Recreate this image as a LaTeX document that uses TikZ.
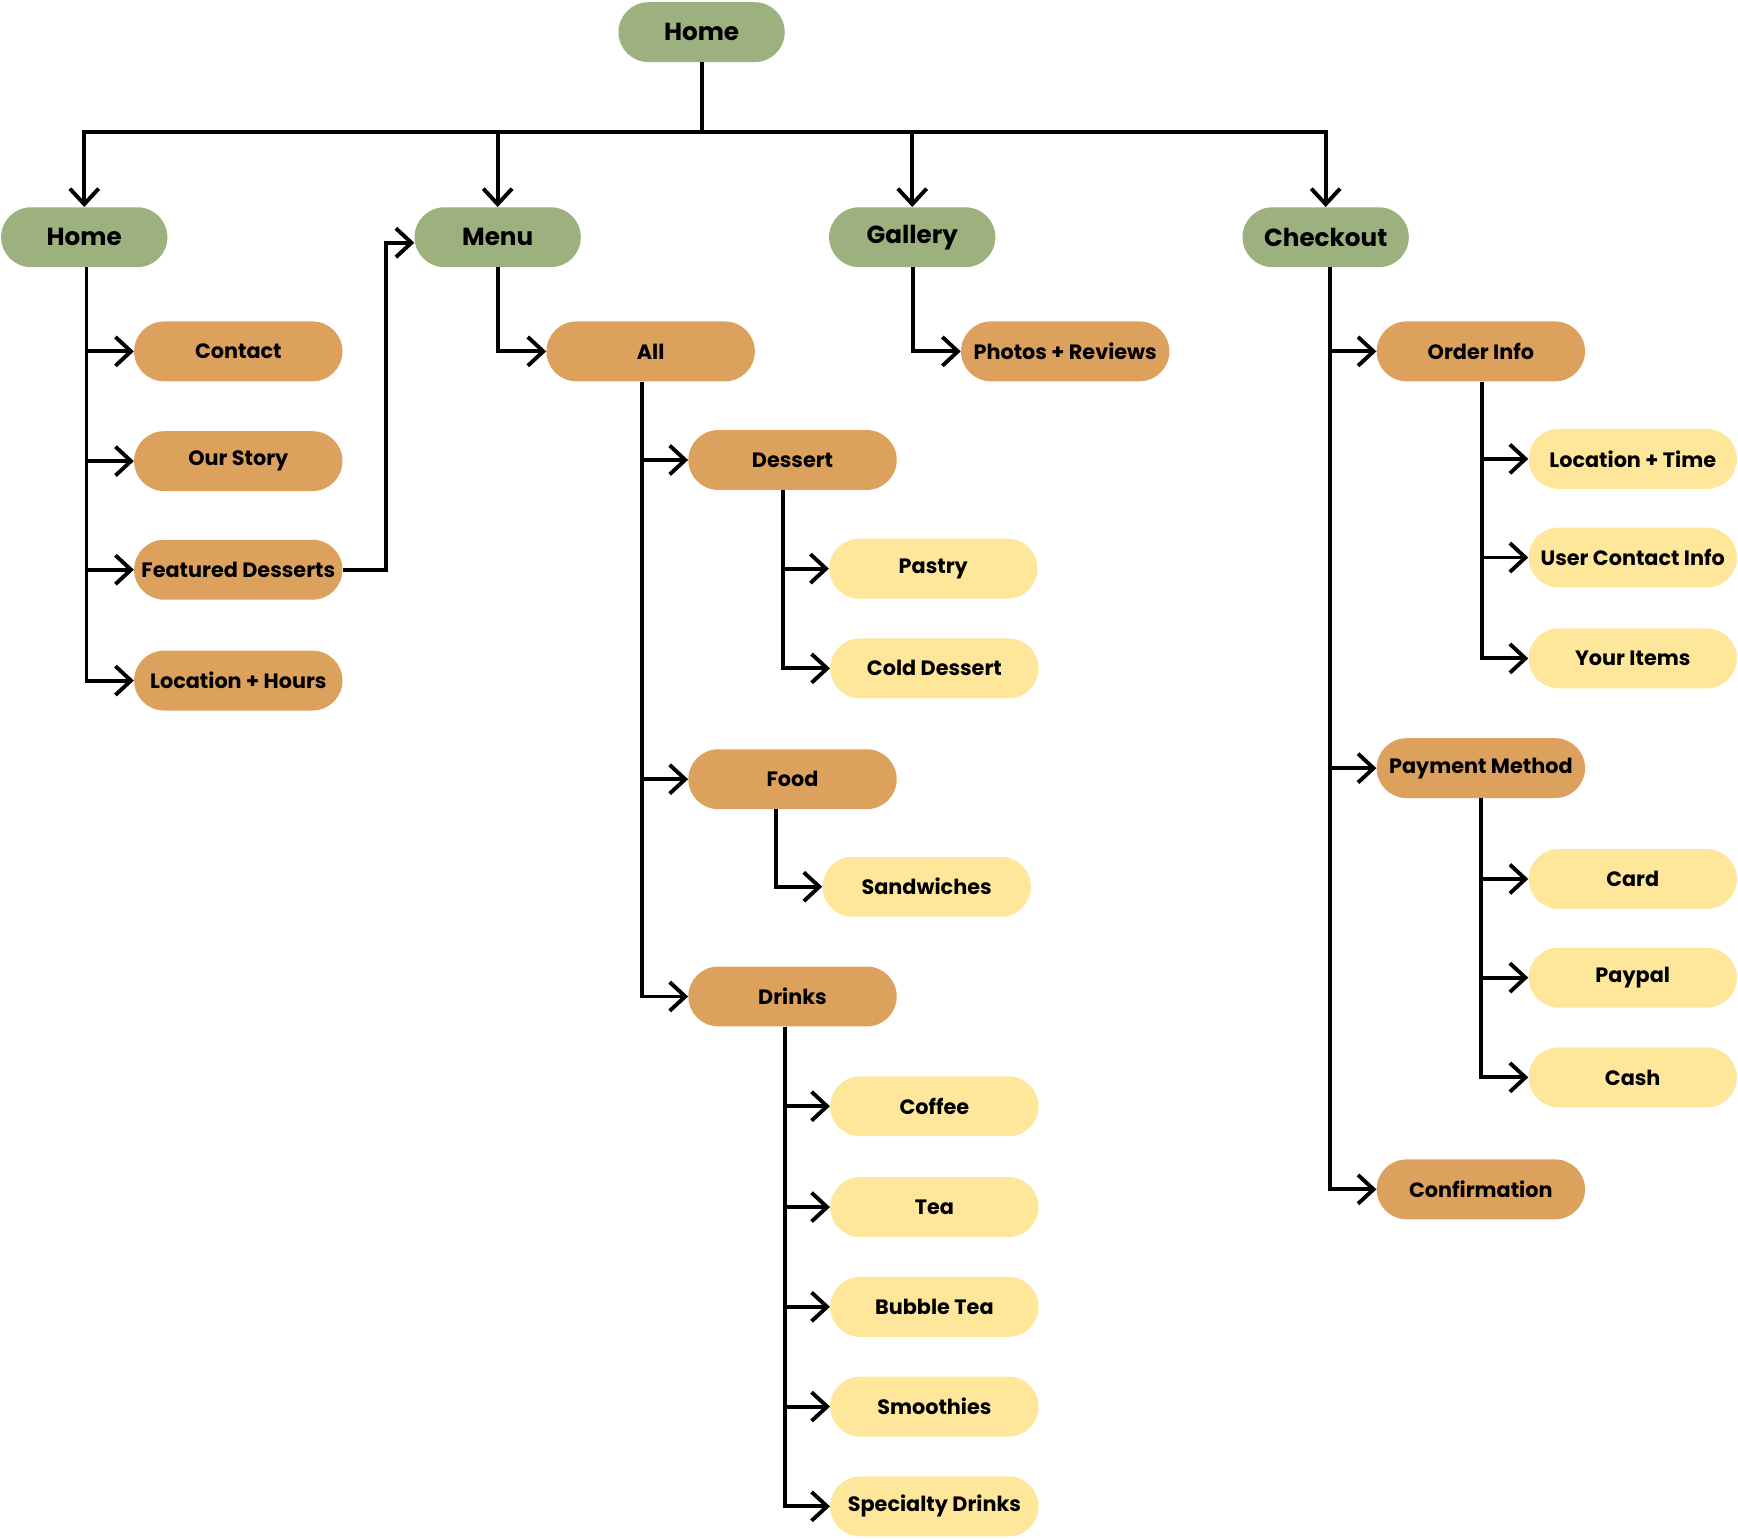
\documentclass[tikz,border=0pt]{standalone}
\usepackage{fontspec}
\setmainfont{Poppins}
\usetikzlibrary{arrows.meta, calc}
\definecolor{sagegreen}{RGB}{157, 177, 127}
\definecolor{caramel}{RGB}{221, 161, 94}
\definecolor{butter}{RGB}{254, 231, 155}

\begin{document}
\begin{tikzpicture}[
    x=0.03cm, y=-0.03cm,
    section/.style={fill=sagegreen, rounded corners=0.81cm, minimum width=4.5cm, minimum height=1.62cm, inner sep=0pt, font=\fontsize{19}{22}\selectfont\bfseries},
    page/.style={fill=caramel, rounded corners=0.81cm, minimum width=5.64cm, minimum height=1.62cm, inner sep=0pt, font=\fontsize{16}{19}\selectfont\bfseries},
    item/.style={page, fill=butter},
    link/.style={line width=3pt, black},
    arrow/.style={link, -{Straight Barb[length=0.42cm, width=0.78cm]}}
]
\useasboundingbox (0,0) rectangle (1568,1388);

% 1. Root
\node (root) [section] at (633,29) {Home};

% 2. Sections
\node (home) [section] at (76,214) {Home};
\node (menu) [section] at (449,214) {Menu};
\node (gallery) [section] at (823,214) {Gallery};
\node (checkout) [section] at (1196,214) {Checkout};

% 3. Home pages
\node (contact) [page] at (215,317) {Contact};
\node (story) [page] at (215,416) {Our Story};
\node (featured) [page] at (215,514) {Featured Desserts};
\node (hours) [page] at (215,614) {Location + Hours};

% 4. Menu
\node (all) [page] at (587,317) {All};
\node (dessert) [page] at (715,415) {Dessert};
\node (pastry) [item] at (842,513) {Pastry};
\node (cold) [item] at (843,603) {Cold Dessert};
\node (food) [page] at (715,703) {Food};
\node (sandwich) [item] at (836,800) {Sandwiches};
\node (drinks) [page] at (715,899) {Drinks};
\node (coffee) [item] at (843,998) {Coffee};
\node (tea) [item] at (843,1089) {Tea};
\node (bubble) [item] at (843,1179) {Bubble Tea};
\node (smoothie) [item] at (843,1269) {Smoothies};
\node (special) [item] at (843,1359) {Specialty Drinks};

% 5. Gallery
\node (photos) [page] at (961,317) {Photos + Reviews};

% 6. Checkout
\node (order) [page] at (1336,317) {Order Info};
\node (loctime) [item] at (1473,414) {Location + Time};
\node (usercontact) [item] at (1473,503) {User Contact Info};
\node (items) [item] at (1473,594) {Your Items};
\node (payment) [page] at (1336,693) {Payment Method};
\node (card) [item] at (1473,793) {Card};
\node (paypal) [item] at (1473,882) {Paypal};
\node (cash) [item] at (1473,972) {Cash};
\node (confirm) [page] at (1336,1073) {Confirmation};

% Connectors
\coordinate (bus) at (635,119);
\draw [link] (root.south) -- (root.south |- bus);
\foreach \s in {home, menu, gallery, checkout}
  \draw [arrow] (root.south |- bus) -| (\s.north);

\foreach \p in {contact, story, featured, hours}
  \draw [arrow] ($(home.south)+(2,0)$) |- (\p.west);
\draw [arrow] (featured.east) -- ++(39,0) |- ($(menu.west)+(0,5)$);

\draw [arrow] (menu.south) |- (all.west);
\foreach \p in {dessert, food, drinks}
  \draw [arrow] ($(all.south)+(-8,0)$) |- (\p.west);
\foreach \p in {pastry, cold}
  \draw [arrow] ($(dessert.south)+(-9,0)$) |- (\p.west);
\draw [arrow] ($(food.south)+(-15,0)$) |- (sandwich.west);
\foreach \p in {coffee, tea, bubble, smoothie, special}
  \draw [arrow] ($(drinks.south)+(-7,0)$) |- (\p.west);

\draw [arrow] ($(gallery.south)+(1,0)$) |- (photos.west);

\foreach \p in {order, payment, confirm}
  \draw [arrow] ($(checkout.south)+(4,0)$) |- (\p.west);
\foreach \p in {loctime, usercontact, items}
  \draw [arrow] ($(order.south)+(1,0)$) |- (\p.west);
\foreach \p in {card, paypal, cash}
  \draw [arrow] (payment.south) |- (\p.west);

\end{tikzpicture}
\end{document}
